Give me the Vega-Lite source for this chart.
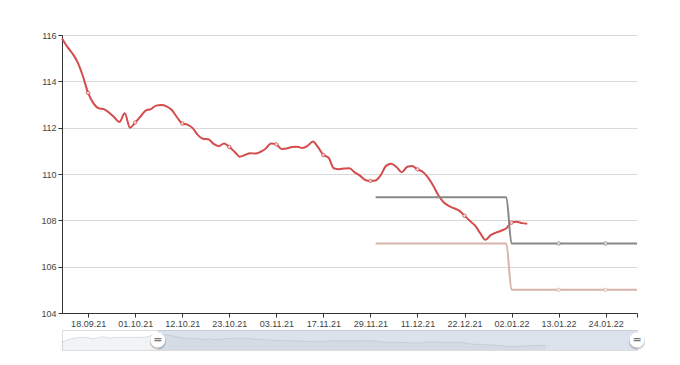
{
  "$schema": "https://vega.github.io/schema/vega-lite/v6.json",
  "background": "white",
  "padding": {"left": 40, "top": 31, "right": 5, "bottom": 5},
  "bounds": "flush",
  "spacing": 17,
  "config": {
    "font": "Liberation Sans",
    "axis": {"labelFont": "Liberation Sans", "labelFontSize": 9, "labelColor": "#444", "domainColor": "#333", "tickColor": "#333", "tickSize": 4, "title": null}
  },
  "datasets": {
    "series": [
      {"i":-22,"v":110.2,"s":"r"},{"i":-21,"v":111.5,"s":"r"},{"i":-20,"v":112.5,"s":"r"},{"i":-19,"v":113.1,"s":"r"},{"i":-18,"v":113.4,"s":"r"},{"i":-17,"v":113.6,"s":"r"},{"i":-16,"v":113.4,"s":"r"},{"i":-15,"v":112.6,"s":"r"},{"i":-14,"v":113.2,"s":"r"},{"i":-13,"v":114.0,"s":"r"},{"i":-12,"v":113.6,"s":"r"},{"i":-11,"v":113.1,"s":"r"},{"i":-10,"v":113.5,"s":"r"},{"i":-9,"v":113.6,"s":"r"},{"i":-8,"v":113.6,"s":"r"},{"i":-7,"v":113.6,"s":"r"},{"i":-6,"v":113.6,"s":"r"},{"i":-5,"v":113.6,"s":"r"},{"i":-4,"v":113.6,"s":"r"},{"i":-3,"v":113.7,"s":"r"},{"i":-2,"v":114.3,"s":"r"},{"i":-1,"v":115.2,"s":"r"},
      {"i":0,"v":115.85,"s":"r"},{"i":1,"v":115.5,"s":"r"},{"i":2,"v":115.2,"s":"r"},{"i":3,"v":114.82,"s":"r"},{"i":4,"v":114.22,"s":"r"},{"i":5,"v":113.5,"s":"r"},{"i":6,"v":113.06,"s":"r"},{"i":7,"v":112.84,"s":"r"},{"i":8,"v":112.8,"s":"r"},{"i":9,"v":112.65,"s":"r"},
      {"i":10,"v":112.45,"s":"r"},{"i":11,"v":112.24,"s":"r"},{"i":12,"v":112.62,"s":"r"},{"i":13,"v":112.0,"s":"r"},{"i":14,"v":112.22,"s":"r"},{"i":15,"v":112.48,"s":"r"},{"i":16,"v":112.74,"s":"r"},{"i":17,"v":112.8,"s":"r"},{"i":18,"v":112.95,"s":"r"},{"i":19,"v":112.98,"s":"r"},
      {"i":20,"v":112.92,"s":"r"},{"i":21,"v":112.76,"s":"r"},{"i":22,"v":112.45,"s":"r"},{"i":23,"v":112.18,"s":"r"},{"i":24,"v":112.13,"s":"r"},{"i":25,"v":111.98,"s":"r"},{"i":26,"v":111.68,"s":"r"},{"i":27,"v":111.52,"s":"r"},{"i":28,"v":111.5,"s":"r"},{"i":29,"v":111.3,"s":"r"},
      {"i":30,"v":111.2,"s":"r"},{"i":31,"v":111.32,"s":"r"},{"i":32,"v":111.17,"s":"r"},{"i":33,"v":110.96,"s":"r"},{"i":34,"v":110.75,"s":"r"},{"i":35,"v":110.82,"s":"r"},{"i":36,"v":110.9,"s":"r"},{"i":37,"v":110.88,"s":"r"},{"i":38,"v":110.96,"s":"r"},{"i":39,"v":111.1,"s":"r"},
      {"i":40,"v":111.32,"s":"r"},{"i":41,"v":111.28,"s":"r"},{"i":42,"v":111.08,"s":"r"},{"i":43,"v":111.1,"s":"r"},{"i":44,"v":111.17,"s":"r"},{"i":45,"v":111.18,"s":"r"},{"i":46,"v":111.12,"s":"r"},{"i":47,"v":111.22,"s":"r"},{"i":48,"v":111.4,"s":"r"},{"i":49,"v":111.15,"s":"r"},
      {"i":50,"v":110.82,"s":"r"},{"i":51,"v":110.7,"s":"r"},{"i":52,"v":110.25,"s":"r"},{"i":53,"v":110.21,"s":"r"},{"i":54,"v":110.24,"s":"r"},{"i":55,"v":110.25,"s":"r"},{"i":56,"v":110.07,"s":"r"},{"i":57,"v":109.93,"s":"r"},{"i":58,"v":109.74,"s":"r"},{"i":59,"v":109.7,"s":"r"},
      {"i":60,"v":109.72,"s":"r"},{"i":61,"v":109.96,"s":"r"},{"i":62,"v":110.35,"s":"r"},{"i":63,"v":110.44,"s":"r"},{"i":64,"v":110.3,"s":"r"},{"i":65,"v":110.08,"s":"r"},{"i":66,"v":110.3,"s":"r"},{"i":67,"v":110.34,"s":"r"},{"i":68,"v":110.2,"s":"r"},{"i":69,"v":110.1,"s":"r"},
      {"i":70,"v":109.85,"s":"r"},{"i":71,"v":109.5,"s":"r"},{"i":72,"v":109.08,"s":"r"},{"i":73,"v":108.78,"s":"r"},{"i":74,"v":108.62,"s":"r"},{"i":75,"v":108.52,"s":"r"},{"i":76,"v":108.42,"s":"r"},{"i":77,"v":108.2,"s":"r"},{"i":78,"v":107.98,"s":"r"},{"i":79,"v":107.78,"s":"r"},
      {"i":80,"v":107.45,"s":"r"},{"i":81,"v":107.16,"s":"r"},{"i":82,"v":107.36,"s":"r"},{"i":83,"v":107.47,"s":"r"},{"i":84,"v":107.55,"s":"r"},{"i":85,"v":107.66,"s":"r"},{"i":86,"v":107.9,"s":"r"},{"i":87,"v":107.94,"s":"r"},{"i":88,"v":107.88,"s":"r"},{"i":89,"v":107.85,"s":"r"},
      {"i":60,"v":109,"s":"g"},{"i":68,"v":109,"s":"g"},{"i":77,"v":109,"s":"g"},{"i":85,"v":109,"s":"g"},{"i":86,"v":107,"s":"g"},{"i":95,"v":107,"s":"g"},{"i":104,"v":107,"s":"g"},{"i":110,"v":107,"s":"g"},
      {"i":60,"v":107,"s":"p"},{"i":68,"v":107,"s":"p"},{"i":77,"v":107,"s":"p"},{"i":85,"v":107,"s":"p"},{"i":86,"v":105,"s":"p"},{"i":95,"v":105,"s":"p"},{"i":104,"v":105,"s":"p"},{"i":110,"v":105,"s":"p"}
    ],
    "window": [{"a": 0, "b": 110}],
    "handles": [{"h": 0}, {"h": 110}]
  },
  "vconcat": [
    {
      "width": 575,
      "height": 278,
      "view": {"stroke": null},
      "data": {"name": "series"},
      "transform": [{"filter": "datum.i >= 0"}],
      "encoding": {
        "x": {"field": "i", "type": "quantitative", "scale": {"domain": [0, 110], "nice": false, "zero": false},
          "axis": {"values": [5,14,23,32,41,50,59,68,77,86,95,104,110], "grid": false, "labelPadding": 2, "labelFlush": false, "labelOverlap": false,
            "labelExpr": "datum.value == 110 ? '' : ['18.09.21','01.10.21','12.10.21','23.10.21','03.11.21','17.11.21','29.11.21','11.12.21','22.12.21','02.01.22','13.01.22','24.01.22'][(datum.value - 5) / 9]"}},
        "y": {"field": "v", "type": "quantitative", "scale": {"domain": [104, 116], "nice": false, "zero": false},
          "axis": {"values": [104,106,108,110,112,114,116], "grid": true, "gridColor": "#d9d9d9", "labelPadding": 2}},
        "color": {"field": "s", "type": "nominal", "scale": {"domain": ["r", "g", "p"], "range": ["#d44c4c", "#888888", "#d6b4ab"]}, "legend": null}
      },
      "layer": [
        {"mark": {"type": "line", "interpolate": "monotone", "strokeWidth": 2}},
        {"transform": [{"filter": "datum.i % 9 == 5 && (datum.s == 'r' || datum.i > 89)"}],
         "mark": {"type": "point", "filled": false, "fill": "white", "size": 12, "strokeWidth": 1, "opacity": 0.8}}
      ]
    },
    {
      "width": 575,
      "height": 20,
      "view": {"stroke": "#dddddd", "fill": "white"},
      "layer": [
        {"data": {"name": "series"},
         "transform": [{"filter": "datum.s == 'r'"}],
         "mark": {"type": "area", "color": "rgba(47,69,84,0.09)", "clip": true, "line": {"color": "rgba(47,69,84,0.3)", "strokeWidth": 0.5}},
         "encoding": {
           "x": {"field": "i", "type": "quantitative", "scale": {"domain": [-22, 110], "nice": false, "zero": false}, "axis": null},
           "y": {"field": "v", "type": "quantitative", "scale": {"domain": [104.9, 118.6], "nice": false, "zero": false}, "axis": null},
           "y2": {"datum": 104.9}
         }},
        {"data": {"name": "window"},
         "mark": {"type": "rect", "color": "rgba(167,183,204,0.4)"},
         "encoding": {
           "x": {"field": "a", "type": "quantitative"},
           "x2": {"field": "b"}
         }},
        {"data": {"name": "handles"},
         "mark": {"type": "point", "filled": true, "color": "#000000", "opacity": 0.18, "size": 260, "yOffset": 1.5},
         "encoding": {
           "x": {"field": "h", "type": "quantitative"},
           "y": {"datum": 111.75, "type": "quantitative"}
         }},
        {"data": {"name": "handles"},
         "mark": {"type": "point", "filled": true, "color": "#ffffff", "opacity": 1, "size": 220},
         "encoding": {
           "x": {"field": "h", "type": "quantitative"},
           "y": {"datum": 111.75, "type": "quantitative"}
         }},
        {"data": {"name": "handles"},
         "mark": {"type": "text", "text": "=", "fontSize": 11, "fontWeight": "bold", "color": "#777777", "baseline": "middle", "align": "center", "font": "DejaVu Sans"},
         "encoding": {
           "x": {"field": "h", "type": "quantitative"},
           "y": {"datum": 111.75, "type": "quantitative"}
         }}
      ]
    }
  ]
}
